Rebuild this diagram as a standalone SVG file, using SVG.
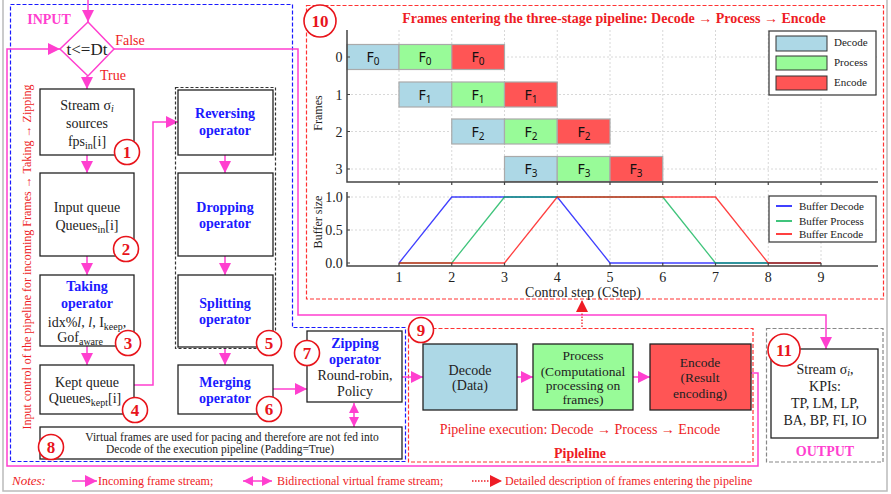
<svg xmlns="http://www.w3.org/2000/svg" width="891" height="494" viewBox="0 0 891 494">
<defs>
<style>
.t{font-family:"Liberation Serif",serif;font-size:14px;fill:#222;text-anchor:middle}
.op{font-weight:bold;fill:#1a1aff}
.box{fill:#fff;stroke:#222;stroke-width:1.3}
.pk{stroke:#ff3fcf;stroke-width:1.5;fill:none}
.nc{fill:#fff;stroke:#e8141b;stroke-width:1.6}
.nt{font-family:"Liberation Serif",serif;font-weight:bold;font-size:17px;fill:#e8141b;text-anchor:middle}
.red{fill:#ee1c25}
.grid{stroke:#d8d8d8;stroke-width:1;stroke-dasharray:2,2;fill:none}
.ax{stroke:#444;stroke-width:1.5;fill:none}
.fl{font-family:"Noto Sans","DejaVu Sans",sans-serif;font-size:14px;fill:#111;text-anchor:middle}
.bar{stroke:#aaa;stroke-width:1.2}
.dc{fill:#add8e6}.pr{fill:#98fb98}.en{fill:#ff5555}
.lg{font-family:"Liberation Serif",serif;font-size:11px;fill:#222}
.bl{fill:none;stroke-width:1.3;stroke-opacity:0.75}
</style>
<marker id="ah" viewBox="0 0 12 12" refX="12" refY="6" markerWidth="12" markerHeight="12" markerUnits="userSpaceOnUse" orient="auto"><path d="M0,0 L12,6 L0,12 z" fill="#ff3fcf"/></marker>
<marker id="ab" viewBox="0 0 10 10" refX="10" refY="5" markerWidth="10" markerHeight="10" markerUnits="userSpaceOnUse" orient="auto-start-reverse"><path d="M0,0 L10,5 L0,10 z" fill="#ff3fcf"/></marker>
<marker id="ar" viewBox="0 0 12 12" refX="12" refY="6" markerWidth="12" markerHeight="12" markerUnits="userSpaceOnUse" orient="auto"><path d="M0,0 L12,6 L0,12 z" fill="#ee1c25"/></marker>
</defs>
<rect width="891" height="494" fill="#fff"/>
<path d="M3,0 V491 H887 V0" fill="none" stroke="#bbb" stroke-width="1.5"/>

<!-- region frames -->
<g id="input-region">
<path d="M10.5,4.5 H292.5 V327.5 H405.5 V461.5 H10.5 Z" fill="none" stroke="#1a1aff" stroke-width="1.2" stroke-dasharray="4,2"/>
<text x="49" y="24" class="t" style="font-weight:bold;fill:#ff3fcf">INPUT</text>
<text class="t red" style="font-size:12px" transform="translate(31,257) rotate(-90)">Input control of the pipeline for incoming Frames → Taking → Zipping</text>
</g>
<g id="chart-region">
<rect x="306.5" y="5.5" width="577" height="293.5" fill="none" stroke="#ff3333" stroke-width="1.2" stroke-dasharray="4,2"/>
<text x="614" y="23" class="t" style="font-weight:bold;fill:#ee1c25">Frames entering the three-stage pipeline: Decode → Process → Encode</text>
</g>
<g id="pipeline-region">
<rect x="408.5" y="328.5" width="344.5" height="133.5" fill="none" stroke="#ff3333" stroke-width="1.2" stroke-dasharray="4,2"/>
<text x="580" y="434" class="t red">Pipeline execution: Decode → Process → Encode</text>
<text x="580" y="458" class="t" style="font-weight:bold;fill:#ee1c25">Pipleline</text>
</g>
<g id="output-region">
<rect x="766.5" y="328.5" width="116.5" height="133.5" fill="none" stroke="#888" stroke-width="1.2" stroke-dasharray="4,2"/>
<text x="825" y="456" class="t" style="font-weight:bold;fill:#ff3fcf">OUTPUT</text>
</g>

<!-- connectors -->
<g id="connectors">
<line x1="88" y1="0" x2="88" y2="22" class="pk" marker-end="url(#ah)"/>
<line x1="87" y1="76" x2="87" y2="89" class="pk" marker-end="url(#ah)"/>
<line x1="87" y1="155" x2="87" y2="173" class="pk" marker-end="url(#ah)"/>
<line x1="87" y1="256" x2="87" y2="275" class="pk" marker-end="url(#ah)"/>
<line x1="87" y1="346" x2="87" y2="365" class="pk" marker-end="url(#ah)"/>
<path d="M134,385 H153 V122 H178" class="pk" marker-end="url(#ah)"/>
<line x1="225" y1="155" x2="225" y2="173" class="pk" marker-end="url(#ah)"/>
<line x1="225" y1="256" x2="225" y2="275" class="pk" marker-end="url(#ah)"/>
<line x1="225" y1="348" x2="225" y2="365" class="pk" marker-end="url(#ah)"/>
<line x1="273" y1="389" x2="307" y2="389" class="pk" marker-end="url(#ah)"/>
<line x1="354" y1="403" x2="354" y2="427" class="pk" marker-start="url(#ab)" marker-end="url(#ab)"/>
<line x1="402" y1="377" x2="423" y2="377" class="pk" marker-end="url(#ah)"/>
<line x1="517" y1="377" x2="533" y2="377" class="pk" marker-end="url(#ah)"/>
<line x1="633" y1="377" x2="650" y2="377" class="pk" marker-end="url(#ah)"/>
<path d="M751,373 H758 V466 H7 V49 H60" class="pk" marker-end="url(#ah)"/>
<path d="M114,49 H298 V315 H826 V349" class="pk" marker-end="url(#ah)"/>
<line x1="582" y1="327" x2="582" y2="300" stroke="#ee1c25" stroke-width="1.3" stroke-dasharray="1.5,1.5" marker-end="url(#ar)"/>
</g>

<!-- nodes -->
<g id="decision">
<polygon points="88,22 114,49 88,76 60,49" fill="#fff" stroke="#ff3fcf" stroke-width="1.5"/>
<text x="87" y="55" class="t" style="font-size:17px">t&lt;=Dt</text>
<text x="130" y="45" class="t red">False</text>
<text x="113" y="80" class="t red">True</text>
</g>
<g id="n1">
<rect x="40" y="89" width="94" height="66" class="box"/>
<text x="87" y="110" class="t">Stream σ<tspan font-style="italic" font-size="10" dy="2">i</tspan></text>
<text x="87" y="128" class="t">sources</text>
<text x="87" y="146" class="t">fps<tspan font-size="10" dy="3">in</tspan><tspan dy="-3">[i]</tspan></text>
</g>
<g id="n2">
<rect x="40" y="173" width="94" height="83" class="box"/>
<text x="87" y="212" class="t">Input queue</text>
<text x="87" y="230" class="t">Queues<tspan font-size="10" dy="3">in</tspan><tspan dy="-3">[i]</tspan></text>
</g>
<g id="n3">
<rect x="40" y="275" width="94" height="71" class="box"/>
<text x="87" y="291" class="t op">Taking</text>
<text x="87" y="308" class="t op">operator</text>
<text x="87" y="327" class="t">idx%<tspan font-style="italic">l</tspan>, <tspan font-style="italic">l</tspan>, I<tspan font-size="10" dy="3">keep</tspan><tspan dy="-3">,</tspan></text>
<text x="80" y="342" class="t">Gof<tspan font-size="10" dy="3">aware</tspan></text>
</g>
<g id="n4">
<rect x="40" y="365" width="94" height="49" class="box"/>
<text x="87" y="387" class="t">Kept queue</text>
<text x="85" y="403" class="t">Queues<tspan font-size="10" dy="3">kept</tspan><tspan dy="-3">[i]</tspan></text>
</g>
<g id="n5">
<rect x="175.5" y="87.5" width="100" height="261" fill="none" stroke="#333" stroke-width="1.2" stroke-dasharray="3,2"/>
<rect x="178" y="90" width="95" height="65" class="box"/>
<text x="225" y="118" class="t op">Reversing</text>
<text x="225" y="135" class="t op">operator</text>
<rect x="178" y="173" width="95" height="83" class="box"/>
<text x="225" y="212" class="t op">Dropping</text>
<text x="225" y="228" class="t op">operator</text>
<rect x="178" y="275" width="95" height="72" class="box"/>
<text x="225" y="308" class="t op">Splitting</text>
<text x="225" y="324" class="t op">operator</text>
</g>
<g id="n6">
<rect x="178" y="365" width="95" height="49" class="box"/>
<text x="225" y="387" class="t op">Merging</text>
<text x="225" y="403" class="t op">operator</text>
</g>
<g id="n7">
<rect x="307" y="331" width="95" height="71" class="box"/>
<text x="355" y="348" class="t op">Zipping</text>
<text x="355" y="364" class="t op">operator</text>
<text x="355" y="380" class="t">Round-robin,</text>
<text x="355" y="396" class="t">Policy</text>
</g>
<g id="n8">
<rect x="40" y="427" width="362" height="32" class="box"/>
<text x="232" y="441" class="t" style="font-size:11.5px">Virtual frames are used for pacing and therefore are not fed into</text>
<text x="220" y="453" class="t" style="font-size:11.5px">Decode of the execution pipeline (Padding=True)</text>
</g>
<g id="decode">
<rect x="423" y="344" width="94" height="66" class="box dc"/>
<text x="470" y="375" class="t">Decode</text>
<text x="470" y="390" class="t">(Data)</text>
</g>
<g id="process">
<rect x="533" y="344" width="100" height="66" class="box pr"/>
<text x="583" y="360" class="t" style="font-size:13.5px">Process</text>
<text x="583" y="376" class="t" style="font-size:13.5px">(Computational</text>
<text x="583" y="390" class="t" style="font-size:13.5px">processing on</text>
<text x="583" y="404" class="t" style="font-size:13.5px">frames)</text>
</g>
<g id="encode">
<rect x="650" y="344" width="101" height="66" class="box en"/>
<text x="700" y="367" class="t" style="font-size:13.5px">Encode</text>
<text x="700" y="382" class="t" style="font-size:13.5px">(Result</text>
<text x="700" y="398" class="t" style="font-size:13.5px">encoding)</text>
</g>
<g id="n11">
<rect x="771" y="349" width="107" height="89" class="box"/>
<text x="825" y="374" class="t">Stream σ<tspan font-style="italic" font-size="10" dy="2">i</tspan><tspan dy="-2">,</tspan></text>
<text x="825" y="391" class="t">KPIs:</text>
<text x="825" y="408" class="t">TP, LM, LP,</text>
<text x="825" y="425" class="t">BA, BP, FI, IO</text>
</g>

<!-- Gantt chart -->
<g id="gantt">
<path class="grid" d="M399,30V182M451.75,30V182M504.5,30V182M557.25,30V182M610,30V182M662.75,30V182M715.5,30V182M768.25,30V182M821,30V182M347,57H878M347,94.5H878M347,131.5H878M347,169H878"/>
<rect x="347" y="44.5" width="52" height="25" class="bar dc"/>
<rect x="399" y="44.5" width="52.75" height="25" class="bar pr"/>
<rect x="451.75" y="44.5" width="52.75" height="25" class="bar en"/>
<rect x="399" y="82" width="52.75" height="25" class="bar dc"/>
<rect x="451.75" y="82" width="52.75" height="25" class="bar pr"/>
<rect x="504.5" y="82" width="52.75" height="25" class="bar en"/>
<rect x="451.75" y="119" width="52.75" height="25" class="bar dc"/>
<rect x="504.5" y="119" width="52.75" height="25" class="bar pr"/>
<rect x="557.25" y="119" width="52.75" height="25" class="bar en"/>
<rect x="504.5" y="156.5" width="52.75" height="25" class="bar dc"/>
<rect x="557.25" y="156.5" width="52.75" height="25" class="bar pr"/>
<rect x="610" y="156.5" width="52.75" height="25" class="bar en"/>
<text class="fl" x="373" y="62">F<tspan font-size="10" dy="3">0</tspan></text>
<text class="fl" x="425" y="62">F<tspan font-size="10" dy="3">0</tspan></text>
<text class="fl" x="478" y="62">F<tspan font-size="10" dy="3">0</tspan></text>
<text class="fl" x="425" y="99.5">F<tspan font-size="10" dy="3">1</tspan></text>
<text class="fl" x="478" y="99.5">F<tspan font-size="10" dy="3">1</tspan></text>
<text class="fl" x="531" y="99.5">F<tspan font-size="10" dy="3">1</tspan></text>
<text class="fl" x="478" y="136.5">F<tspan font-size="10" dy="3">2</tspan></text>
<text class="fl" x="531" y="136.5">F<tspan font-size="10" dy="3">2</tspan></text>
<text class="fl" x="584" y="136.5">F<tspan font-size="10" dy="3">2</tspan></text>
<text class="fl" x="531" y="174">F<tspan font-size="10" dy="3">3</tspan></text>
<text class="fl" x="584" y="174">F<tspan font-size="10" dy="3">3</tspan></text>
<text class="fl" x="636" y="174">F<tspan font-size="10" dy="3">3</tspan></text>
<path class="ax" d="M347,30V182H878"/>
<path stroke="#444" stroke-width="1.2" d="M399,182v3M451.75,182v3M504.5,182v3M557.25,182v3M610,182v3M662.75,182v3M715.5,182v3M768.25,182v3M821,182v3M347,57h3M347,94.5h3M347,131.5h3M347,169h3"/>
<text class="t" x="339" y="62">0</text>
<text class="t" x="339" y="99.5">1</text>
<text class="t" x="339" y="136.5">2</text>
<text class="t" x="339" y="174">3</text>
<text class="t" style="font-size:12px" transform="translate(322,113) rotate(-90)">Frames</text>
<rect x="769" y="31" width="107" height="64" fill="#fff" stroke="#333" stroke-width="1.2"/>
<rect x="776" y="36" width="51" height="15" class="dc" stroke="#333"/>
<rect x="776" y="56" width="51" height="14" class="pr" stroke="#333"/>
<rect x="776" y="76" width="51" height="14" class="en" stroke="#333"/>
<text class="lg" x="834" y="46">Decode</text>
<text class="lg" x="834" y="66">Process</text>
<text class="lg" x="834" y="86">Encode</text>
</g>

<!-- Buffer chart -->
<g id="buffer">
<path class="grid" d="M399,190V266M451.75,190V266M504.5,190V266M557.25,190V266M610,190V266M662.75,190V266M715.5,190V266M768.25,190V266M821,190V266M347,197H878M347,230H878"/>
<polyline class="bl" stroke="#0000ff" points="399,263 451.75,197 557.25,197 610,263 821,263"/>
<polyline class="bl" stroke="#00b050" points="399,263 451.75,263 504.5,197 662.75,197 715.5,263 821,263"/>
<polyline class="bl" stroke="#ff0000" points="399,263 504.5,263 557.25,197 715.5,197 768.25,263 821,263"/>
<path class="ax" d="M347,192V266H878"/>
<path stroke="#444" stroke-width="1.2" d="M399,266v-3M451.75,266v-3M504.5,266v-3M557.25,266v-3M610,266v-3M662.75,266v-3M715.5,266v-3M768.25,266v-3M821,266v-3M347,197h3M347,230h3M347,263h3"/>
<text class="t" x="334" y="202">1.0</text>
<text class="t" x="334" y="235">0.5</text>
<text class="t" x="334" y="268">0.0</text>
<text class="t" x="399" y="282">1</text>
<text class="t" x="451.75" y="282">2</text>
<text class="t" x="504.5" y="282">3</text>
<text class="t" x="557.25" y="282">4</text>
<text class="t" x="610" y="282">5</text>
<text class="t" x="662.75" y="282">6</text>
<text class="t" x="715.5" y="282">7</text>
<text class="t" x="768.25" y="282">8</text>
<text class="t" x="821" y="282">9</text>
<text class="t" x="583" y="296.5">Control step (CStep)</text>
<text class="t" style="font-size:12px" transform="translate(322,222) rotate(-90)">Buffer size</text>
<rect x="769" y="196" width="107" height="46" fill="#fff" stroke="#333" stroke-width="1.2"/>
<line x1="776" y1="206" x2="792" y2="206" stroke="#0000ff" stroke-width="1.5"/>
<line x1="776" y1="221" x2="792" y2="221" stroke="#00b050" stroke-width="1.5"/>
<line x1="776" y1="234" x2="792" y2="234" stroke="#ff0000" stroke-width="1.5"/>
<text class="lg" x="799" y="210">Buffer Decode</text>
<text class="lg" x="799" y="225">Buffer Process</text>
<text class="lg" x="799" y="238">Buffer Encode</text>
</g>

<!-- number badges -->
<g id="badges">
<circle cx="127" cy="152" r="12.5" class="nc"/><text x="127" y="158" class="nt">1</text>
<circle cx="126" cy="249" r="12.5" class="nc"/><text x="126" y="255" class="nt">2</text>
<circle cx="128" cy="343" r="12.5" class="nc"/><text x="128" y="349" class="nt">3</text>
<circle cx="135" cy="410" r="12.5" class="nc"/><text x="135" y="416" class="nt">4</text>
<circle cx="269" cy="343" r="12.5" class="nc"/><text x="269" y="349" class="nt">5</text>
<circle cx="269" cy="409" r="12.5" class="nc"/><text x="269" y="415" class="nt">6</text>
<circle cx="307" cy="353" r="12.5" class="nc"/><text x="307" y="359" class="nt">7</text>
<circle cx="51" cy="447" r="12.5" class="nc"/><text x="51" y="453" class="nt">8</text>
<circle cx="421" cy="330" r="12.5" class="nc"/><text x="421" y="336" class="nt">9</text>
<circle cx="320" cy="21" r="16" class="nc"/><text x="320" y="27" class="nt">10</text>
<circle cx="784" cy="350" r="16" class="nc"/><text x="784" y="356" class="nt">11</text>
</g>

<!-- notes -->
<g id="notes">
<text x="12" y="485" class="t red" style="text-anchor:start;font-style:italic;font-size:13px">Notes:</text>
<line x1="72" y1="481" x2="97" y2="481" class="pk" marker-end="url(#ah)"/>
<text x="98" y="485" class="t red" style="text-anchor:start;font-size:12px">Incoming frame stream;</text>
<line x1="243" y1="481" x2="272" y2="481" class="pk" marker-start="url(#ab)" marker-end="url(#ab)"/>
<text x="277" y="485" class="t red" style="text-anchor:start;font-size:12px">Bidirectional virtual frame stream;</text>
<line x1="472" y1="481" x2="502" y2="481" stroke="#ee1c25" stroke-width="1.3" stroke-dasharray="1.5,1.5" marker-end="url(#ar)"/>
<text x="505" y="485" class="t red" style="text-anchor:start;font-size:12px">Detailed description of frames entering the pipeline</text>
</g>
</svg>
